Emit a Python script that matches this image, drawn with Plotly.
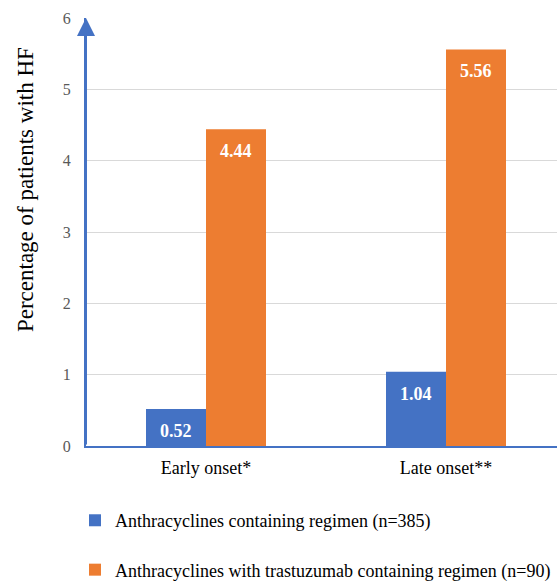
import plotly.graph_objects as go

categories = ["Early onset*", "Late onset**"]
anthra = [0.52, 1.04]
anthra_trast = [4.44, 5.56]
series_names = ["Anthracyclines containing regimen (n=385)",
                "Anthracyclines with trastuzumab containing regimen (n=90)"]
y_ticks = [0, 1, 2, 3, 4, 5, 6]
y_title = "Percentage of patients with HF"

BLUE = "#4472C4"
ORANGE = "#ED7D31"
FONT = "Liberation Serif"

fig = go.Figure()
series = [(anthra, series_names[0], BLUE, "a", -30),
          (anthra_trast, series_names[1], ORANGE, "b", 30)]
for vals, name, color, grp, shift in series:
    fig.add_trace(go.Bar(
        x=categories, y=vals, name=name, marker_color=color,
        marker_line_width=0, legendgroup=grp,
    ))
    for cat, v in zip(categories, vals):
        fig.add_annotation(
            x=cat, y=v, xref="x", yref="y", text=f"<b>{v:.2f}</b>",
            showarrow=False, xshift=shift, yshift=-22, yanchor="middle",
            font=dict(family=FONT, size=18, color="white"),
        )

fig.update_layout(
    width=557, height=581,
    margin=dict(l=86, r=0, t=18, b=135, autoexpand=False),
    paper_bgcolor="white", plot_bgcolor="white",
    font=dict(family=FONT, size=16, color="black"),
    barmode="group", bargap=0.5, bargroupgap=0,
    showlegend=True,
    legend=dict(x=-0.0234, y=-0.131, xanchor="left", yanchor="top",
                orientation="v", tracegroupgap=23,
                font=dict(family=FONT, size=18, color="black")),
)
fig.update_yaxes(
    range=[0, 6], tickvals=y_ticks, showgrid=True, gridcolor="#D9D9D9",
    gridwidth=1, showline=True, linecolor=BLUE, linewidth=2,
    tickfont=dict(family=FONT, size=16, color="#595959"),
    ticks="", ticklen=0, zeroline=False, automargin=False,
    ticklabelstandoff=10,
)
fig.update_xaxes(
    range=[-0.5, 1.4625],
    showline=True, linecolor=BLUE, linewidth=2, ticks="", automargin=False,
    tickfont=dict(family=FONT, size=18, color="black"), ticklabelstandoff=4,
)
fig.add_annotation(
    xref="paper", yref="paper", x=-0.1295, y=0.598, text=y_title,
    textangle=-90, showarrow=False, xanchor="center", yanchor="middle",
    font=dict(family=FONT, size=23, color="black"),
)
fig.add_annotation(
    xref="paper", yref="y", x=0, y=6, text="", showarrow=True,
    axref="pixel", ayref="y", ax=0, ay=0,
    arrowhead=2, arrowsize=1.8, arrowwidth=2, arrowcolor=BLUE,
)

fig.write_html("out.html", config={"displayModeBar": False},
               post_script="document.body.style.margin='0';document.body.style.overflow='hidden';")
